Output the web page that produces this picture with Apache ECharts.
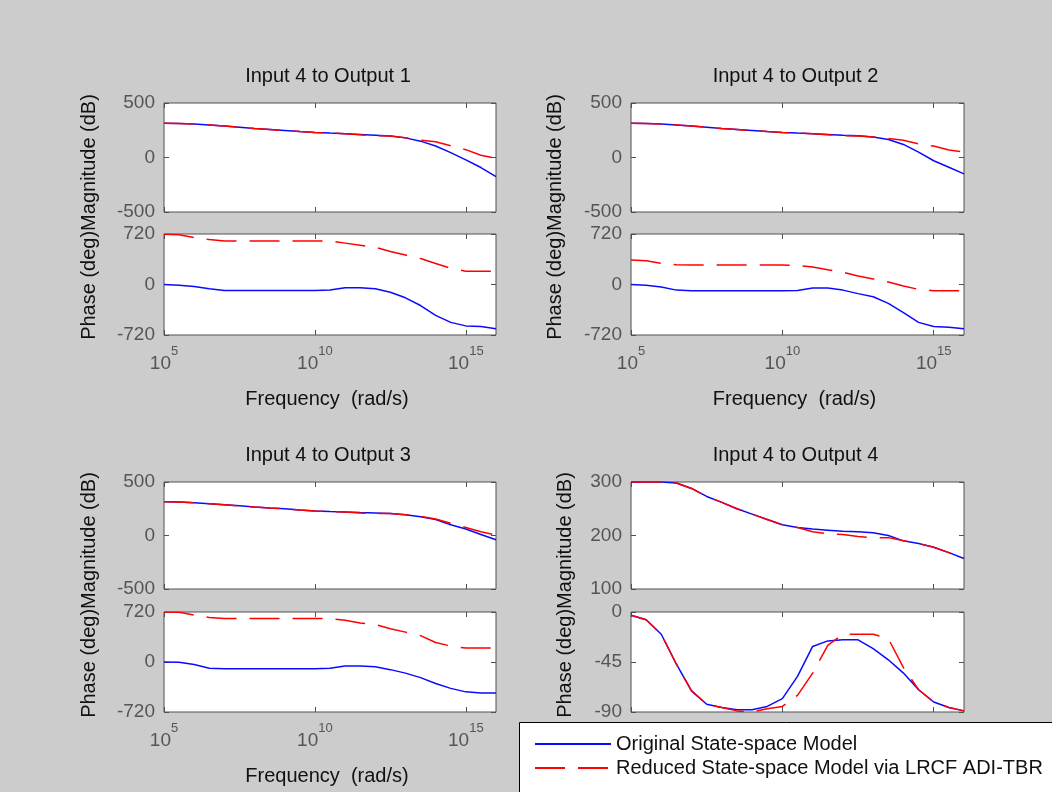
<!DOCTYPE html>
<html><head><meta charset="utf-8">
<script src="https://cdn.jsdelivr.net/npm/echarts@6/dist/echarts.min.js"></script>
<style>html,body{margin:0;padding:0;background:#cccccc;}#c{width:1052px;height:792px;}</style>
</head><body><div id="c"></div>
<script>
// ---- data (x = log10 of frequency in rad/s) ----
const logW = [5,5.5,6,6.5,7,7.5,8,8.5,9,9.5,10,10.5,11,11.5,12,12.5,13,13.5,14,14.5,15,15.5,16];
const titles = ['Input 4 to Output 1','Input 4 to Output 2','Input 4 to Output 3','Input 4 to Output 4'];
const xTickExps = [5,10,15];
const seriesNames = ['Original State-space Model','Reduced State-space Model via LRCF ADI-TBR'];

const mag1Orig = [315,313,307,299,288,277,265,256,247,238,230,224,219,212,205,197,180,150,105,45,-22,-92,-175];
const mag1Red  = [315,313,307,299,288,277,265,256,247,238,230,224,219,208,200,197,182,160,145,108,72,21,-9];
const ph1Orig  = [0,-10,-30,-60,-85,-85,-85,-85,-85,-85,-85,-80,-45,-45,-60,-110,-190,-300,-440,-540,-590,-600,-630];
const ph1Red   = [716,710,670,640,620,620,620,620,620,620,620,620,590,560,530,470,420,370,300,230,190,190,190];

const mag2Orig = [315,313,307,299,288,277,265,256,247,238,230,224,219,212,205,200,188,165,120,50,-30,-90,-150];
const mag2Red  = [315,313,307,299,288,277,265,256,247,238,230,224,219,208,200,198,188,175,158,125,105,68,50];
const ph2Orig  = [0,-10,-35,-80,-90,-90,-90,-90,-90,-90,-90,-85,-50,-50,-80,-130,-175,-270,-400,-540,-600,-610,-630];
const ph2Red   = [350,340,300,280,278,278,278,278,278,278,278,270,250,210,175,120,80,35,-20,-70,-88,-88,-88];

const mag3Orig = [315,313,305,297,287,277,266,257,249,239,230,224,219,214,210,206,194,175,150,100,60,10,-40];
const mag3Red  = [315,313,305,297,287,277,266,257,249,239,230,224,219,211,205,205,194,178,155,115,75,35,5];
const ph3Orig  = [0,-5,-35,-90,-97,-97,-97,-97,-97,-97,-97,-90,-58,-58,-70,-110,-160,-225,-310,-380,-430,-445,-445];
const ph3Red   = [720,715,677,640,628,628,628,628,628,628,628,625,600,560,540,480,430,380,280,230,200,200,200];

const mag4Orig = [300,300,300,298,288,273,262,250,240,230,220,215,212,210,208,207,205,200,190,185,178,168,157];
const mag4Red  = [300,300,300,298,288,273,262,250,240,230,220,215,207,203,202,198,196,196,190,185,178,168,157];
const ph4Orig  = [-3,-7,-20,-47,-71,-83,-86,-88,-88,-85,-78,-58,-31,-26,-25,-25,-33,-43,-55,-70,-81,-86,-89];
const ph4Red   = [-3,-7,-20,-47,-71,-83,-86,-89,-90,-87,-85,-75,-55,-30,-20,-20,-20,-24,-50,-70,-81,-86,-89];

const magRange = [[-500,500,500],[-500,500,500],[-500,500,500],[100,300,100]];
const phRange  = [[-720,720,720],[-720,720,720],[-720,720,720],[-90,0,45]];

const magOrig = [mag1Orig,mag2Orig,mag3Orig,mag4Orig];
const magRed  = [mag1Red,mag2Red,mag3Red,mag4Red];
const phOrig  = [ph1Orig,ph2Orig,ph3Orig,ph4Orig];
const phRed   = [ph1Red,ph2Red,ph3Red,ph4Red];

// ---- layout ----
const FONT = "'Liberation Sans', Arial, sans-serif";
const cols = [{left:164,width:332},{left:631,width:333}];
const rowsTop = [{mt:103,mh:109,pt:234,ph:101},{mt:482,mh:107,pt:612,ph:100}];
const BLUE = '#0a0aff', RED = '#ff0000', AX = '#505050';

const grids = [], xAxes = [], yAxes = [], series = [], graphics = [];
const toPts = (vals) => logW.map((e,i) => [Math.pow(10,e), vals[i]]);
const tickVals = xTickExps.map(e => Math.pow(10,e));

function addGrid(left, top, width, height, yr, showXLabels, magOrPhase, k) {
  const gi = grids.length;
  grids.push({left, top, width, height, show:true, backgroundColor:'#fff', borderColor:AX, borderWidth:1, containLabel:false});
  const baseX = {type:'log', logBase:10, gridIndex:gi, min:1e5, max:1e16,
    axisLine:{show:false, onZero:false}, splitLine:{show:false}, minorTick:{show:false}, minorSplitLine:{show:false},
    axisTick:{show:true, inside:true, length:5, lineStyle:{color:AX}, customValues:tickVals}};
  xAxes.push(Object.assign({}, baseX, {position:'bottom',
    axisLabel:{show:showXLabels, customValues:tickVals, margin:10,
      formatter:(v)=>'{b|10}{s|'+Math.round(Math.log10(v))+'}',
      rich:{b:{fontSize:19, fontFamily:FONT, color:'#555', lineHeight:28, verticalAlign:'bottom'},
            s:{fontSize:13, fontFamily:FONT, color:'#555', lineHeight:28, verticalAlign:'top'}}}}));
  xAxes.push(Object.assign({}, baseX, {position:'top', axisLabel:{show:false}}));
  const baseY = {type:'value', gridIndex:gi, min:yr[0], max:yr[1], interval:yr[2],
    axisLine:{show:false, onZero:false}, splitLine:{show:false},
    axisTick:{show:true, inside:true, length:5, lineStyle:{color:AX}}};
  yAxes.push(Object.assign({}, baseY, {position:'left',
    axisLabel:{show:true, fontSize:19, fontFamily:FONT, color:'#555', margin:9}}));
  yAxes.push(Object.assign({}, baseY, {position:'right', axisLabel:{show:false}}));
  const origVals = magOrPhase === 'mag' ? magOrig[k] : phOrig[k];
  const redVals  = magOrPhase === 'mag' ? magRed[k] : phRed[k];
  series.push({type:'line', name:seriesNames[0], xAxisIndex:2*gi, yAxisIndex:2*gi, data:toPts(origVals),
    symbol:'none', showSymbol:false, lineStyle:{color:BLUE, width:1.5}, itemStyle:{color:BLUE}, z:2, animation:false});
  series.push({type:'line', name:seriesNames[1], xAxisIndex:2*gi, yAxisIndex:2*gi, data:toPts(redVals),
    symbol:'none', showSymbol:false, lineStyle:{color:RED, width:1.5, type:[30,13]}, itemStyle:{color:RED}, z:3, animation:false});
}

for (let k = 0; k < 4; k++) {
  const c = cols[k % 2], r = rowsTop[Math.floor(k / 2)];
  addGrid(c.left, r.mt, c.width, r.mh, magRange[k], false, 'mag', k);
  addGrid(c.left, r.pt, c.width, r.ph, phRange[k], true, 'ph', k);
  const cx = c.left + c.width / 2;
  graphics.push({type:'text', x:cx - 2, y:r.mt - 27, z:1,
    style:{text:titles[k], font:'20px '+FONT, fill:'#111', align:'center', verticalAlign:'middle'}});
  graphics.push({type:'text', x:cx - 3, y:r.pt + r.ph + 64, z:1,
    style:{text:'Frequency  (rad/s)', font:'20px '+FONT, fill:'#111', align:'center', verticalAlign:'middle'}});
  const yx = (k === 3) ? 565 : (k % 2 === 0 ? 89 : 555);
  graphics.push({type:'text', x:yx, y:(r.mt + r.pt + r.ph) / 2 - 2, rotation:Math.PI / 2, z:1,
    style:{text:'Phase (deg)Magnitude (dB)', font:'20px '+FONT, fill:'#111', align:'center', verticalAlign:'middle'}});
}
graphics.push({type:'rect', z:100, shape:{x:519.5, y:722.5, width:600, height:100},
  style:{fill:'#fff', stroke:'#000', lineWidth:1}});

const chart = echarts.init(document.getElementById('c'), null, {renderer:'canvas'});
chart.setOption({
  backgroundColor:'#cccccc',
  animation:false,
  grid:grids, xAxis:xAxes, yAxis:yAxes, series:series,
  legend:{data:seriesNames, orient:'vertical', left:529, top:729, itemWidth:76, itemHeight:14, itemGap:4,
    itemStyle:{opacity:0, borderWidth:0},
    textStyle:{fontSize:20, fontFamily:FONT, color:'#111'}, z:200, selectedMode:false},
  graphic:{elements:graphics}
});
</script></body></html>
